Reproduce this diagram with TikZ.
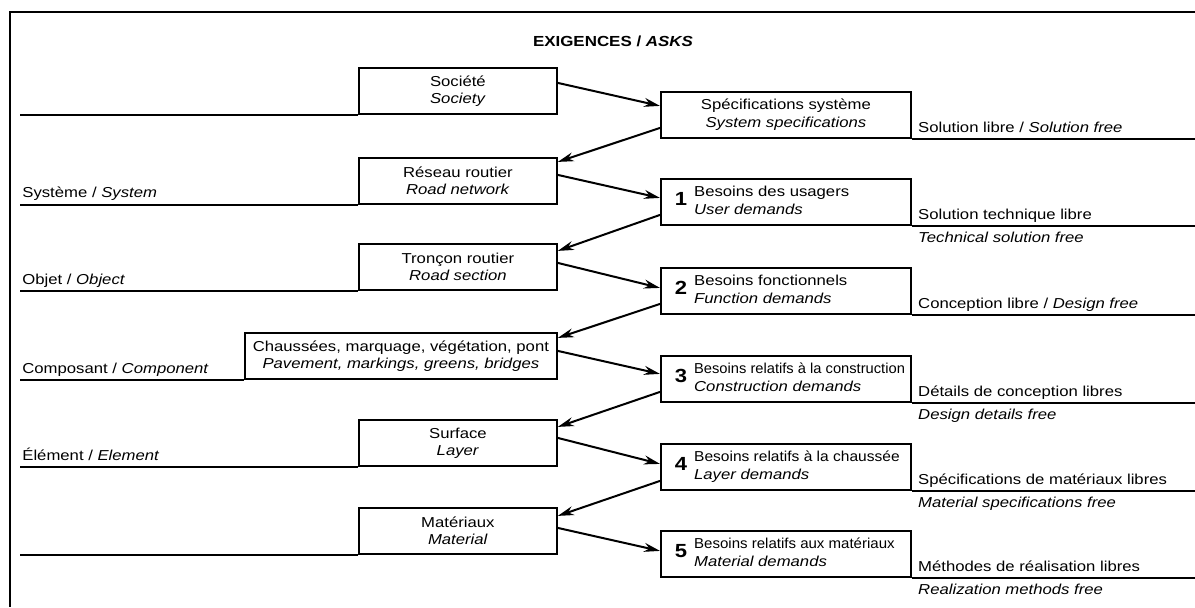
\documentclass[tikz,border=0pt]{standalone}
\usepackage{graphicx}
\usepackage{fontspec}
\setmainfont{Liberation Sans}[FakeStretch=1.16]
\usetikzlibrary{arrows.meta,calc}

\newcommand{\demand}[3]{\makebox[124pt][l]{\hspace*{6.5pt}{\fontsize{9.5}{10}\selectfont\bfseries #1}\hspace{3.5pt}\begin{tabular}[c]{@{}l@{}}#2\\\textit{#3}\end{tabular}}}

\tikzset{
  leftbox/.style={draw, line width=0.9pt, anchor=north west, minimum width=99pt, minimum height=23pt, inner sep=0pt, align=center, font=\fontsize{7.2}{8.5}\selectfont},
  wide/.style={minimum width=156pt},
  rightbox/.style={draw, line width=0.9pt, anchor=north west, minimum width=125pt, minimum height=23pt, inner sep=0pt, font=\fontsize{7.2}{8.8}\selectfont},
  freetext/.style={anchor=base west, inner sep=0pt, font=\fontsize{7.2}{8.5}\selectfont},
  ground/.style={line width=0.7pt},
  flow/.style={line width=1pt, -{Stealth[length=8pt,width=4.5pt]}},
}

\begin{document}
\begin{tikzpicture}[x=0.5pt,y=0.5pt,yscale=-1,xscale=1]
\useasboundingbox (0,0) rectangle (1195,607);

% frame
\draw[line width=1pt] (1195,12) -- (10,12) -- (10,607);
\coordinate (lm) at (20,0);
\coordinate (rm) at (1195,0);

% Text Node
\node[font=\fontsize{7.3}{9}\selectfont\bfseries] (title) at (613,41) {EXIGENCES / \textit{ASKS}};

% left column
\node[leftbox] (soc) at (358,67) {Société\\\textit{Society}};
\node[leftbox] (res) at (358,157) {Réseau routier\\\textit{Road network}};
\node[leftbox] (tro) at (358,243) {Tronçon routier\\\textit{Road section}};
\node[leftbox,wide] (cha) at (244,332) {Chaussées, marquage, végétation, pont\\\textit{Pavement, markings, greens, bridges}};
\node[leftbox] (sur) at (358,419) {Surface\\\textit{Layer}};
\node[leftbox] (mat) at (358,507) {Matériaux\\\textit{Material}};

% right column
\node[rightbox,align=center] (spec) at (660,91) {Spécifications système\\\textit{System specifications}};
\node[rightbox] (d1) at (660,178) {\demand{1}{Besoins des usagers}{User demands}};
\node[rightbox] (d2) at (660,267) {\demand{2}{Besoins fonctionnels}{Function demands}};
\node[rightbox] (d3) at (660,355) {\demand{3}{\scalebox{0.88}[1]{Besoins relatifs à la construction}}{Construction demands}};
\node[rightbox] (d4) at (660,443) {\demand{4}{\scalebox{0.93}[1]{Besoins relatifs à la chaussée}}{Layer demands}};
\node[rightbox] (d5) at (660,530) {\demand{5}{\scalebox{0.9}[1]{Besoins relatifs aux matériaux}}{Material demands}};

% level lines, left
\draw[ground] (soc.south west) -- (soc.south west -| lm);
\draw[ground] (res.south west) -- (res.south west -| lm);
\draw[ground] (tro.south west) -- (tro.south west -| lm);
\draw[ground] (cha.south west) -- (cha.south west -| lm);
\draw[ground] (sur.south west) -- (sur.south west -| lm);
\draw[ground] (mat.south west) -- (mat.south west -| lm);

\node[freetext] (sys) at ($(res.south west -| lm)+(2,-7)$) {Système / \textit{System}};
\node[freetext] (obj) at ($(tro.south west -| lm)+(2,-6)$) {Objet / \textit{Object}};
\node[freetext] (comp) at ($(cha.south west -| lm)+(2,-6)$) {Composant / \textit{Component}};
\node[freetext] (elem) at ($(sur.south west -| lm)+(2,-6)$) {Élément / \textit{Element}};

% level lines, right
\draw[ground] (spec.south east) -- (spec.south east -| rm);
\draw[ground] (d1.south east) -- (d1.south east -| rm);
\draw[ground] (d2.south east) -- (d2.south east -| rm);
\draw[ground] (d3.south east) -- (d3.south east -| rm);
\draw[ground] (d4.south east) -- (d4.south east -| rm);
\draw[ground] (d5.south east) -- (d5.south east -| rm);

\node[freetext] (free0) at ($(spec.south east)+(6,-6)$) {Solution libre / \textit{Solution free}};
\node[freetext] (free1) at ($(d1.south east)+(6,-6)$) {Solution technique libre};
\node[freetext] (free1b) at ($(d1.south east)+(6,17)$) {\textit{Technical solution free}};
\node[freetext] (free2) at ($(d2.south east)+(6,-6)$) {Conception libre / \textit{Design free}};
\node[freetext] (free3) at ($(d3.south east)+(6,-6)$) {Détails de conception libres};
\node[freetext] (free3b) at ($(d3.south east)+(6,17)$) {\textit{Design details free}};
\node[freetext] (free4) at ($(d4.south east)+(6,-6)$) {Spécifications de matériaux libres};
\node[freetext] (free4b) at ($(d4.south east)+(6,17)$) {\textit{Material specifications free}};
\node[freetext] (free5) at ($(d5.south east)+(6,-6)$) {Méthodes de réalisation libres};
\node[freetext] (free5b) at ($(d5.south east)+(6,17)$) {\textit{Realization methods free}};

% zigzag arrows
\draw[flow] ($(soc.east)+(0,-8)$) -- ($(spec.west)+(0,-9)$);
\draw[flow] ($(spec.west)+(0,13)$) -- ($(res.east)+(0,-19)$);
\draw[flow] ($(res.east)+(0,-6)$) -- ($(d1.west)+(0,-4)$);
\draw[flow] ($(d1.west)+(0,13)$) -- ($(tro.east)+(0,-16)$);
\draw[flow] ($(tro.east)+(0,-4)$) -- ($(d2.west)+(0,-3)$);
\draw[flow] ($(d2.west)+(0,13)$) -- ($(cha.east)+(0,-18)$);
\draw[flow] ($(cha.east)+(0,-5)$) -- ($(d3.west)+(0,-5)$);
\draw[flow] ($(d3.west)+(0,13)$) -- ($(sur.east)+(0,-16)$);
\draw[flow] ($(sur.east)+(0,-5)$) -- ($(d4.west)+(0,-3)$);
\draw[flow] ($(d4.west)+(0,14)$) -- ($(mat.east)+(0,-15)$);
\draw[flow] ($(mat.east)+(0,-3)$) -- ($(d5.west)+(0,-3)$);

\end{tikzpicture}
\end{document}
